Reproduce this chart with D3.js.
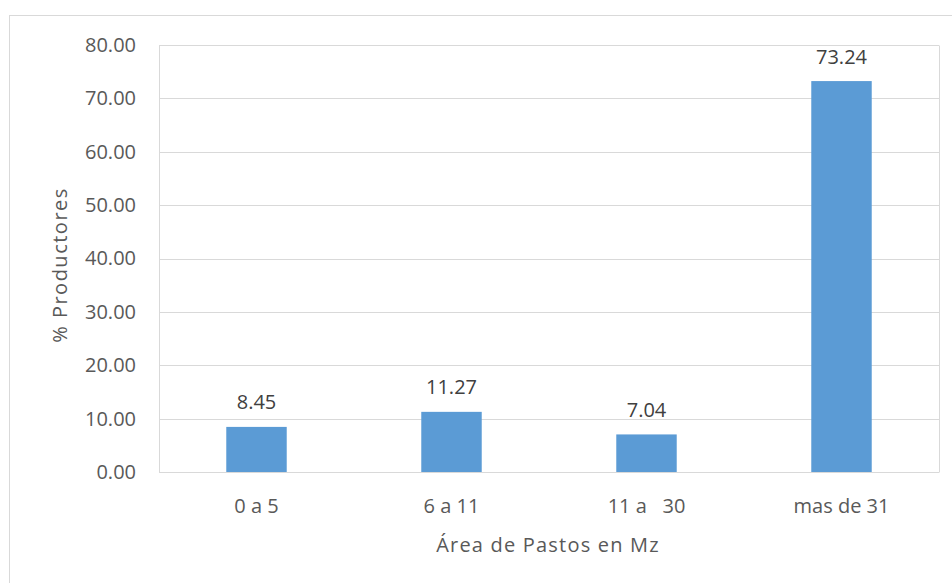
<!DOCTYPE html>
<html>
<head>
<meta charset="utf-8">
<script src="https://cdn.jsdelivr.net/npm/d3@7"></script>
<style>
  body { margin: 0; background: #fff; }
  text { font-family: "Open Sans", sans-serif; fill: #595959; }
</style>
</head>
<body>
<svg id="chart"></svg>
<script>
const WIDTH = 952;
const HEIGHT = 583;

const categories = ["0 a 5", "6 a 11", "11 a \u00a0 30", "mas de 31"];
const values = [8.45, 11.27, 7.04, 73.24];
const yTicks = [0, 10, 20, 30, 40, 50, 60, 70, 80];

const margin = {left: 159, top: 45, right: 13, bottom: 111};
const FONT = "20px";

function main(){
    var svg = d3.select("#chart")
        .attr("width", WIDTH)
        .attr("height", HEIGHT);

    // outer chart border
    svg.append("rect")
        .attr("x", 9.5).attr("y", 15.5)
        .attr("width", 950).attr("height", 600)
        .attr("fill", "none")
        .attr("stroke", "#d9d9d9");

    var x = d3.scaleBand()
        .domain(categories)
        .range([margin.left, WIDTH - margin.right])
        .paddingInner(0.69)
        .paddingOuter(0.345);

    var y = d3.scaleLinear()
        .domain([0, 80])
        .range([HEIGHT - margin.bottom, margin.top]);

    // gridlines
    svg.append("g")
        .selectAll("line")
        .data(yTicks)
        .enter()
        .append("line")
        .attr("x1", margin.left)
        .attr("x2", WIDTH - margin.right)
        .attr("y1", d => Math.round(y(d)) + 0.5)
        .attr("y2", d => Math.round(y(d)) + 0.5)
        .attr("stroke", "#d9d9d9")
        .attr("stroke-width", 1);

    // plot area sides
    [margin.left, WIDTH - margin.right].forEach(px => {
        svg.append("line")
            .attr("x1", px + 0.5).attr("x2", px + 0.5)
            .attr("y1", Math.round(y(80)) + 0.5)
            .attr("y2", Math.round(y(0)) + 0.5)
            .attr("stroke", "#d9d9d9");
    });

    // y axis labels
    var yAxis = d3.axisLeft(y)
        .tickValues(yTicks)
        .tickFormat(d3.format(".2f"))
        .tickSize(0)
        .tickPadding(23);
    var yg = svg.append("g")
        .attr("transform", "translate(" + margin.left + ",0)")
        .call(yAxis);
    yg.select(".domain").remove();
    yg.selectAll("text").style("font-size", FONT).attr("fill", "#595959");

    // x axis labels
    var xAxis = d3.axisBottom(x).tickSize(0).tickPadding(27);
    var xg = svg.append("g")
        .attr("transform", "translate(0," + y(0) + ")")
        .call(xAxis);
    xg.select(".domain").remove();
    xg.selectAll("text").style("font-size", FONT).attr("fill", "#595959");

    // bars
    svg.append("g")
        .selectAll("rect")
        .data(values)
        .enter()
        .append("rect")
        .attr("x", (d, i) => x(categories[i]))
        .attr("width", x.bandwidth())
        .attr("y", d => y(d))
        .attr("height", d => y(0) - y(d))
        .attr("fill", "#5b9bd5");

    // value labels
    svg.append("g")
        .selectAll("text")
        .data(values)
        .enter()
        .append("text")
        .attr("x", (d, i) => x(categories[i]) + x.bandwidth() / 2)
        .attr("y", d => y(d) - 17.5)
        .attr("text-anchor", "middle")
        .style("font-size", FONT)
        .style("fill", "#404040")
        .text(d => d.toFixed(2));

    // axis titles
    svg.append("text")
        .attr("x", 548)
        .attr("y", 552)
        .attr("text-anchor", "middle")
        .style("font-size", FONT)
        .style("letter-spacing", "1.2px")
        .text("Área de Pastos en Mz");

    svg.append("text")
        .attr("transform", "translate(67,265) rotate(-90)")
        .attr("text-anchor", "middle")
        .style("font-size", FONT)
        .style("letter-spacing", "1.5px")
        .text("% Productores");
}

main();
</script>
</body>
</html>
